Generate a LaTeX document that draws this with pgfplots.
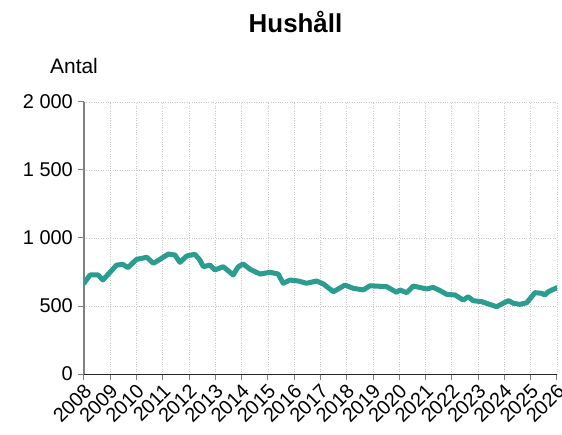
\documentclass[border=0pt]{standalone}
\usepackage{pgfplots}
\pgfplotsset{compat=1.18}
\usepackage{fontspec}
\setmainfont{Liberation Sans}
\definecolor{teal1}{RGB}{42,157,143}
\definecolor{gridc}{RGB}{200,200,200}
\begin{document}
\begin{tikzpicture}
\begin{axis}[
  scale only axis,
  width=473bp, height=272bp,
  xmin=2008, xmax=2026, ymin=0, ymax=2000,
  axis x line*=bottom, axis y line*=left,
  axis line style={-},
  x axis line style={black!85, line width=1bp},
  y axis line style={gray, line width=1.5bp},
  xtick={2008,...,2026},
  xticklabels={2008,2009,2010,2011,2012,2013,2014,2015,2016,2017,2018,2019,2020,2021,2022,2023,2024,2025,2026},
  ytick={0,500,1000,1500,2000},
  yticklabels={0,500,1 000,1 500,2 000},
  tick align=outside,
  major tick length=6bp,
  tick style={gray, line width=1bp},
  grid=major,
  grid style={gridc, dotted, line width=0.8bp},
  ticklabel style={font=\fontsize{20}{23}\selectfont},
  xticklabel style={rotate=45, anchor=north east, inner sep=1bp, xshift=-1.5bp},
  yticklabel style={inner sep=2bp, xshift=-3bp},
  clip=true,
]
\addplot[teal1, line width=5bp, line join=round, line cap=round] coordinates {
(2008.00,667) (2008.23,728) (2008.54,728) (2008.72,691) (2009.24,801) (2009.48,806)
(2009.67,782) (2010.00,843) (2010.39,858) (2010.64,814) (2010.89,843) (2011.21,882)
(2011.46,875) (2011.65,821) (2011.91,868) (2012.22,880) (2012.41,838) (2012.54,789)
(2012.79,801) (2012.98,765) (2013.30,789) (2013.68,728) (2013.87,789) (2014.06,809)
(2014.32,770) (2014.70,735) (2015.08,748) (2015.39,735) (2015.58,667) (2015.84,691)
(2016.15,684) (2016.47,667) (2016.85,684) (2017.11,662) (2017.49,605) (2017.93,654)
(2018.25,630) (2018.63,618) (2018.88,649) (2019.52,642) (2019.90,600) (2020.02,618)
(2020.28,598) (2020.53,647) (2021.04,625) (2021.29,637) (2021.55,613) (2021.80,586)
(2022.12,581) (2022.43,544) (2022.62,568) (2022.81,539) (2023.13,532) (2023.70,495)
(2024.15,539) (2024.34,520) (2024.59,512) (2024.85,524) (2025.16,598) (2025.42,593)
(2025.54,581) (2025.67,605) (2026.00,635)
};
\end{axis}
\node[anchor=base, font=\bfseries\fontsize{26}{30}\selectfont] at ([shift={(211.5bp,69bp)}]current axis.north west) {Hushåll};
\node[anchor=base west, inner sep=0pt, font=\fontsize{21}{25}\selectfont] at ([shift={(-34bp,28bp)}]current axis.north west) {Antal};
\pgfresetboundingbox
\useasboundingbox ([shift={(-84bp,-61bp)}]current axis.south west) rectangle ([shift={(478bp,374bp)}]current axis.south west);
\end{tikzpicture}
\end{document}
